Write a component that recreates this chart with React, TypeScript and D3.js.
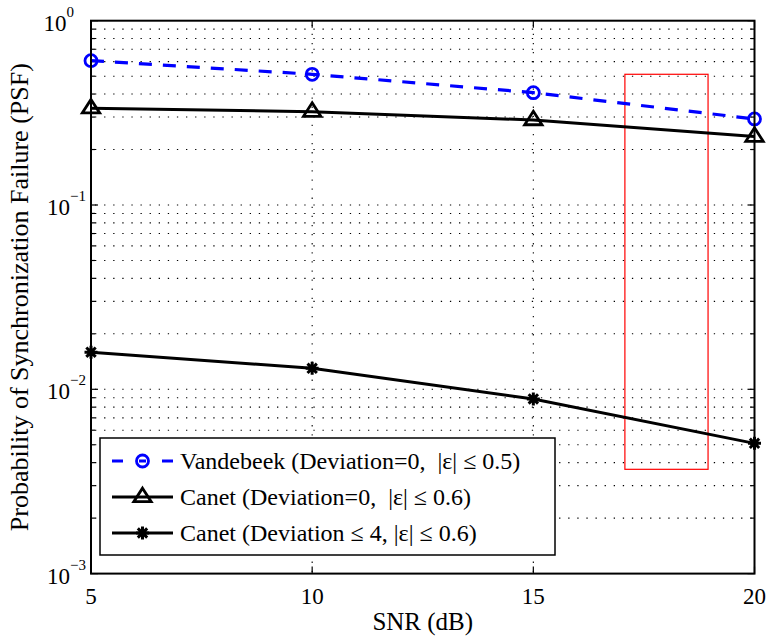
import React from "react";
import * as d3 from "d3";

const snr = [5, 10, 15, 20];
const vandebeek = [0.607, 0.512, 0.407, 0.293];
const canet0 = [0.335, 0.321, 0.289, 0.235];
const canet4 = [0.0159, 0.013, 0.00886, 0.00509];
const xTicks = [5, 10, 15, 20];
const yDecades = [-3, -2, -1, 0];
const legendLabels = [
  "Vandebeek (Deviation=0,  |\u03b5| \u2264 0.5)",
  "Canet (Deviation=0,  |\u03b5| \u2264 0.6)",
  "Canet (Deviation \u2264 4, |\u03b5| \u2264 0.6)",
];
const boxX = [17.07, 18.95];
const boxY = [0.512, 0.00368];

const W = 767, H = 639;
const L = 91, R = 754.5, T = 20.7, B = 573.6;
const FONT = "Liberation Serif, Times New Roman, serif";

function starPath(cx: number, cy: number, r: number) {
  const d = r * 0.72;
  return `M${cx - r},${cy}L${cx + r},${cy}M${cx},${cy - r}L${cx},${cy + r}M${cx - d},${cy - d}L${cx + d},${cy + d}M${cx - d},${cy + d}L${cx + d},${cy - d}`;
}
function triPath(cx: number, cy: number, s: number) {
  const h = s * 0.9;
  return `M${cx},${cy - h * 0.62}L${cx + s * 0.62},${cy + h * 0.45}L${cx - s * 0.62},${cy + h * 0.45}Z`;
}

export default function App() {
  const x = d3.scaleLinear().domain([5, 20]).range([L, R]);
  const y = d3.scaleLog().domain([1e-3, 1]).range([B, T]);
  const line = d3
    .line<number>()
    .x((_, i) => x(snr[i]))
    .y((v) => y(v));

  const minor: number[] = [];
  for (let e = -3; e < 0; e++) {
    for (let k = 2; k <= 9; k++) minor.push(k * Math.pow(10, e));
  }
  const majorInner = [1e-2, 1e-1];

  const legX = 100, legY = 438, legW = 455, legH = 117;
  const rows = [461, 497, 533];
  const sx0 = 112, sx1 = 173, smx = 142.5;

  return (
    <svg
      width={W}
      height={H}
      style={{ position: "absolute", left: 0, top: 0, background: "#fff", fontFamily: FONT }}
    >
      <rect x={0} y={0} width={W} height={H} fill="#fff" />
      {/* grid */}
      <g stroke="#000" strokeWidth={1.1} strokeDasharray="1.3,7.8" fill="none">
        {[...minor, ...majorInner].map((v, i) => (
          <line key={"h" + i} x1={L + 4} x2={R} y1={y(v)} y2={y(v)} />
        ))}
        {[10, 15].map((v) => (
          <line key={"v" + v} x1={x(v)} x2={x(v)} y1={T + 4} y2={B} />
        ))}
      </g>
      {/* ticks */}
      <g stroke="#000" strokeWidth={1.2}>
        {minor.map((v, i) => (
          <g key={"mt" + i}>
            <line x1={L} x2={L + 4} y1={y(v)} y2={y(v)} />
            <line x1={R} x2={R - 4} y1={y(v)} y2={y(v)} />
          </g>
        ))}
        {yDecades.map((e) => (
          <g key={"Mt" + e}>
            <line x1={L} x2={L + 7} y1={y(Math.pow(10, e))} y2={y(Math.pow(10, e))} />
            <line x1={R} x2={R - 7} y1={y(Math.pow(10, e))} y2={y(Math.pow(10, e))} />
          </g>
        ))}
        {xTicks.map((v) => (
          <g key={"xt" + v}>
            <line x1={x(v)} x2={x(v)} y1={B} y2={B - 7} />
            <line x1={x(v)} x2={x(v)} y1={T} y2={T + 7} />
          </g>
        ))}
      </g>
      {/* red box */}
      <rect
        x={x(boxX[0])}
        y={y(boxY[0])}
        width={x(boxX[1]) - x(boxX[0])}
        height={y(boxY[1]) - y(boxY[0])}
        fill="none"
        stroke="#ff0000"
        strokeWidth={1.2}
      />
      {/* series */}
      <path d={line(vandebeek) || ""} fill="none" stroke="#0000ff" strokeWidth={3.2} strokeDasharray="13,11" />
      <path d={line(canet0) || ""} fill="none" stroke="#000" strokeWidth={3} />
      <path d={line(canet4) || ""} fill="none" stroke="#000" strokeWidth={3} />
      {vandebeek.map((v, i) => (
        <circle key={"c" + i} cx={x(snr[i])} cy={y(v)} r={6} fill="none" stroke="#0000ff" strokeWidth={2.8} />
      ))}
      {canet0.map((v, i) => (
        <path key={"t" + i} d={triPath(x(snr[i]), y(v) - 1, 14)} fill="none" stroke="#000" strokeWidth={2.8} />
      ))}
      {canet4.map((v, i) => (
        <path key={"s" + i} d={starPath(x(snr[i]), y(v), 6.5)} fill="none" stroke="#000" strokeWidth={3} />
      ))}
      {/* frame */}
      <rect x={L} y={T} width={R - L} height={B - T} fill="none" stroke="#000" strokeWidth={2} />
      {/* legend */}
      <rect x={legX} y={legY} width={legW} height={legH} fill="#fff" stroke="#000" strokeWidth={1.5} />
      <line x1={sx0} x2={sx1} y1={rows[0]} y2={rows[0]} stroke="#0000ff" strokeWidth={3.2} strokeDasharray="11,16,7,16,11" />
      <circle cx={smx} cy={rows[0]} r={6} fill="none" stroke="#0000ff" strokeWidth={2.8} />
      <line x1={sx0} x2={sx1} y1={rows[1]} y2={rows[1]} stroke="#000" strokeWidth={3} />
      <path d={triPath(smx, rows[1] - 1, 14)} fill="none" stroke="#000" strokeWidth={2.8} />
      <line x1={sx0} x2={sx1} y1={rows[2]} y2={rows[2]} stroke="#000" strokeWidth={3} />
      <path d={starPath(smx, rows[2], 6.5)} fill="none" stroke="#000" strokeWidth={3} />
      {legendLabels.map((t, i) => (
        <text key={"lt" + i} x={180} y={rows[i]} dy="0.34em" fontSize={24} style={{ whiteSpace: "pre" }} fill="#000">
          {t}
        </text>
      ))}
      {/* x tick labels */}
      {xTicks.map((v) => (
        <text key={"xl" + v} x={x(v)} y={B + 30} textAnchor="middle" fontSize={23} fill="#000">
          {v}
        </text>
      ))}
      {/* y tick labels */}
      {yDecades.map((e) => (
        <text key={"yl" + e} x={e < 0 ? 86 : 74} y={y(Math.pow(10, e)) + 10} textAnchor="end" fontSize={23} fill="#000">
          10
          <tspan dy={-14} fontSize={15}>
            {e < 0 ? "\u2212" + Math.abs(e) : String(e)}
          </tspan>
        </text>
      ))}
      <text x={(L + R) / 2} y={630} textAnchor="middle" fontSize={25} fill="#000">
        SNR (dB)
      </text>
      <text
        transform={`translate(28,${(T + B) / 2}) rotate(-90)`}
        textAnchor="middle"
        fontSize={26}
        fill="#000"
      >
        Probability of Synchronization Failure (PSF)
      </text>
    </svg>
  );
}
